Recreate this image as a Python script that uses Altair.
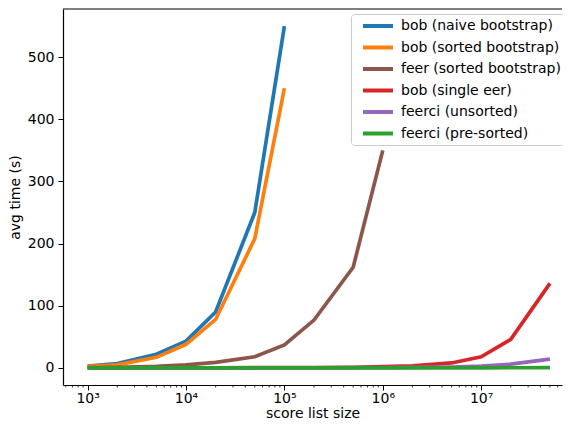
import altair as alt
import pandas as pd

# ---- data ----
sizes = [1e3, 2e3, 5e3, 1e4, 2e4, 5e4, 1e5, 2e5, 5e5, 1e6, 2e6, 5e6, 1e7, 2e7, 5e7]
series_names = [
    "bob (naive bootstrap)",
    "bob (sorted bootstrap)",
    "feer (sorted bootstrap)",
    "bob (single eer)",
    "feerci (unsorted)",
    "feerci (pre-sorted)",
]
colors = ["#1f77b4", "#ff7f0e", "#8c564b", "#d62728", "#9467bd", "#2ca02c"]

bob_naive = [3, 7, 22, 43, 90, 250, 550]
bob_sorted = [2.5, 5, 17, 38, 78, 208, 450]
feer_sorted = [0.5, 1, 2.5, 5, 9, 18, 37, 77, 162, 350]
bob_single = [0.05, 0.05, 0.1, 0.1, 0.2, 0.3, 0.4, 0.6, 1, 2, 3.5, 8, 18, 46, 136]
feerci_unsorted = [0, 0, 0, 0, 0, 0.05, 0.1, 0.15, 0.3, 0.5, 0.8, 1.5, 3, 6, 14]
feerci_presorted = [0, 0, 0, 0, 0, 0, 0, 0, 0, 0, 0.05, 0.1, 0.15, 0.25, 0.5]

x_major = [1e3, 1e4, 1e5, 1e6, 1e7]
y_ticks = [0, 100, 200, 300, 400, 500]

all_values = [bob_naive, bob_sorted, feer_sorted, bob_single, feerci_unsorted, feerci_presorted]

rows = []
for order, (name, vals) in enumerate(zip(series_names, all_values)):
    for s, v in zip(sizes, vals):
        rows.append({"series": name, "size": s, "time": v, "ord": order})
df = pd.DataFrame(rows)

XMIN, XMAX = 562, 6.63e7
YMIN, YMAX = -27.5, 577.5
minor = [m * 10 ** e for e in range(2, 8) for m in range(2, 10)]
minor = [v for v in minor if XMIN <= v <= XMAX]
minor_df = pd.DataFrame({"size": minor, "y0": [YMIN] * len(minor), "y1": [YMIN - 4] * len(minor)})
spine_df = pd.DataFrame({"xs": [XMIN], "xe": [XMAX], "ytop": [YMAX]})

FONT = "DejaVu Sans"

xscale = alt.Scale(type="log", domain=[XMIN, XMAX], nice=False)
yscale = alt.Scale(domain=[YMIN, YMAX], nice=False, zero=False)

label_expr = (
    "datum.value == 1000 ? '10³' : datum.value == 10000 ? '10⁴' : "
    "datum.value == 100000 ? '10⁵' : datum.value == 1000000 ? '10⁶' : '10⁷'"
)

lines = alt.Chart(df).mark_line(strokeWidth=3.7, clip=True).encode(
    x=alt.X(
        "size:Q",
        scale=xscale,
        axis=alt.Axis(
            title="score list size",
            values=x_major,
            labelExpr=label_expr,
            grid=False,
            tickSize=5,
            labelPadding=1,
            titlePadding=1,
        ),
    ),
    y=alt.Y(
        "time:Q",
        scale=yscale,
        axis=alt.Axis(
            title="avg time (s)",
            values=y_ticks,
            grid=False,
            tickSize=5,
            labelPadding=4,
            titlePadding=5,
        ),
    ),
    color=alt.Color(
        "series:N",
        scale=alt.Scale(domain=series_names, range=colors),
        sort=series_names,
        legend=alt.Legend(
            title=None,
            orient="none",
            legendX=288,
            legendY=5,
            symbolType="M-2.14,0H2.14",
            symbolSize=196,
            symbolStrokeWidth=4,
            labelFontSize=14,
            labelFont=FONT,
            labelColor="black",
            labelLimit=400,
            labelOffset=14,
            rowPadding=4.5,
            padding=3,
            symbolOffset=15,
            strokeColor="#cccccc",
            fillColor="white",
            cornerRadius=3,
        ),
    ),
    order=alt.Order("ord:Q"),
)

minor_ticks = alt.Chart(minor_df).mark_rule(color="black", strokeWidth=0.8).encode(
    x=alt.X("size:Q", scale=xscale),
    y=alt.Y("y0:Q", scale=yscale),
    y2="y1:Q",
)

top_spine = alt.Chart(spine_df).mark_rule(color="black", strokeWidth=1.2).encode(
    x=alt.X("xs:Q", scale=xscale),
    x2="xe:Q",
    y=alt.Y("ytop:Q", scale=yscale),
)

chart = (
    alt.layer(minor_ticks, top_spine, lines)
    .properties(
        width=555,
        height=412,
        padding=0,
        autosize=alt.AutoSizeParams(type="fit", contains="padding"),
    )
    .configure_view(stroke=None)
    .configure_axis(
        labelFont=FONT,
        titleFont=FONT,
        labelFontSize=14,
        titleFontSize=14,
        titleFontWeight="normal",
        labelColor="black",
        titleColor="black",
        domainColor="black",
        domainWidth=1.2,
        tickColor="black",
        tickWidth=1,
    )
)

chart.save("out.html", embed_options={"renderer": "svg", "actions": False})
